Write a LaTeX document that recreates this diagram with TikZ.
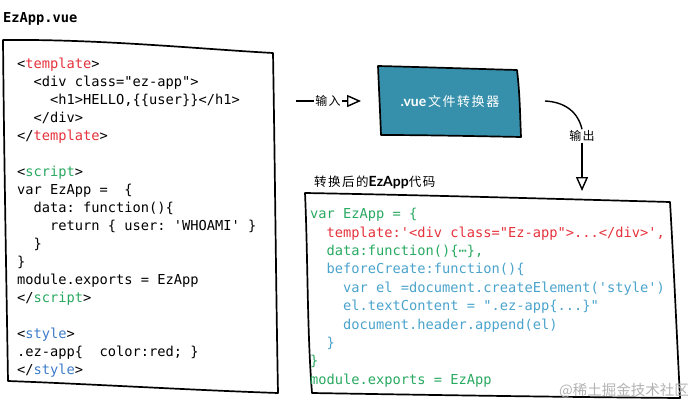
\documentclass[tikz,border=0pt]{standalone}
\usepackage{fontspec}
\setmonofont{DejaVu Sans Mono}
\newfontfamily\cjk{Noto Sans CJK SC}
\newfontfamily\cjkw{Noto Sans CJK SC}[LetterSpace=12]
\newfontfamily\latb{Lato}
\usetikzlibrary{arrows.meta}
\definecolor{cred}{HTML}{E5323B}
\definecolor{cgreen}{HTML}{28A960}
\definecolor{cstyle}{HTML}{3D7CCB}
\definecolor{clblue}{HTML}{4AA3CC}
\definecolor{cbox}{HTML}{3790AB}
\newcommand\ind[1]{\hphantom{#1}}
\begin{document}
\begin{tikzpicture}[x=1pt,y=-1pt,
  sketch/.style={line width=1.7pt, line join=round, line cap=round},
  codeblock/.style={inner sep=0pt, anchor=north west, align=left,
    font=\ttfamily\frenchspacing\fontsize{13.7}{18}\selectfont},
  handlbl/.style={inner sep=1pt, font=\cjkw\fontsize{12}{14}\selectfont},
  opentip/.style={-{Triangle[open,length=14pt,width=12pt]}, line width=1.4pt}
]
\useasboundingbox (0,0) rectangle (700,412);

% title
\node[inner sep=0pt, anchor=west, font=\ttfamily\bfseries\fontsize{13.7}{16}\selectfont] (title) at (3,19) {EzApp.vue};

% left source box
\draw[sketch] (3,40) .. controls (100,39) and (200,49) .. (273,53)
  .. controls (275,170) and (276,290) .. (278,393)
  .. controls (190,390) and (90,384) .. (8,381)
  .. controls (6,260) and (4,150) .. (3,40) -- cycle;

\node[codeblock] (src) at (17,58) {%
<\textcolor{cred}{template}>\\
\ind{xx}<div class="ez-app">\\
\ind{xxxx}<h1>HELLO,\{\{user\}\}</h1>\\
\ind{xx}</div>\\
</\textcolor{cred}{template}>\\
\mbox{}\\
<\textcolor{cgreen}{script}>\\
var EzApp =\ \ \{\\
\ind{xx}data: function()\{\\
\ind{xxxx}return \{ user: 'WHOAMI' \}\\
\ind{xx}\}\\
\}\\
module.exports = EzApp\\
</\textcolor{cgreen}{script}>\\
\mbox{}\\
<\textcolor{cstyle}{style}>\\
.ez-app\{\ \ color:red; \}\\
</\textcolor{cstyle}{style}>};

% input arrow
\coordinate (inStart) at (296,101);
\node[handlbl] (inLbl) at (328,101) {输入};
\coordinate (inEnd) at (361,101);
\draw[line width=1.4pt] (inStart) -- (inLbl.west);
\draw[opentip] (inLbl.east) -- (inEnd);

% converter box
\draw[sketch, fill=cbox] (378,66) .. controls (420,67) and (480,69) .. (517,70)
  .. controls (520,95) and (520,115) .. (521,137)
  .. controls (470,136) and (420,135) .. (381,135)
  .. controls (380,110) and (379,90) .. (378,66) -- cycle;
\node[inner sep=0pt, text=white] (conv) at (450,102)
  {{\latb\bfseries\fontsize{14}{16}\selectfont .vue}\,{\cjkw\fontsize{13}{16}\selectfont 文件转换器}};

% output arrow
\coordinate (outStart) at (545,101);
\node[handlbl] (outLbl) at (582,136) {输出};
\coordinate (outEnd) at (582,191);
\draw[line width=1.4pt] (outStart) .. controls (565,102) and (578,112) .. (outLbl.north);
\draw[opentip] (outLbl.south) -- (outEnd);

% caption of result
\node[inner sep=0pt, anchor=west] (resLbl) at (314,182)
  {{\cjkw\fontsize{12.5}{14}\selectfont 转换后的}{\latb\bfseries\fontsize{14}{16}\selectfont EzApp}{\cjkw\fontsize{12.5}{14}\selectfont 代码}};

% right result box
\draw[sketch] (305,193) .. controls (420,195) and (560,199) .. (670,202)
  .. controls (674,270) and (677,340) .. (680,398)
  .. controls (560,397) and (430,395) .. (312,393)
  .. controls (307,330) and (308,260) .. (305,193) -- cycle;

\node[codeblock, font=\ttfamily\frenchspacing\fontsize{13.7}{18.4}\selectfont] (res) at (310,208) {%
\textcolor{cgreen}{var EzApp = \{}\\
\textcolor{cred}{\ind{xx}template:'<div class="Ez-app">...</div>',}\\
\textcolor{cgreen}{\ind{xx}data:function()\{⋯\},}\\
\textcolor{clblue}{\ind{xx}beforeCreate:function()\{}\\
\textcolor{clblue}{\ind{xxxx}var el =document.createElement('style')}\\
\textcolor{clblue}{\ind{xxxx}el.textContent = ".ez-app\{...\}"}\\
\textcolor{clblue}{\ind{xxxx}document.header.append(el)}\\
\textcolor{clblue}{\ind{xx}\}}\\
\textcolor{cgreen}{\}}\\
\textcolor{cgreen}{module.exports = EzApp}};

% watermark
\node[inner sep=0pt, anchor=east, text=black!30, font=\cjk\fontsize{14.5}{16}\selectfont] (wm) at (689,391) {@稀土掘金技术社区};
\end{tikzpicture}
\end{document}
